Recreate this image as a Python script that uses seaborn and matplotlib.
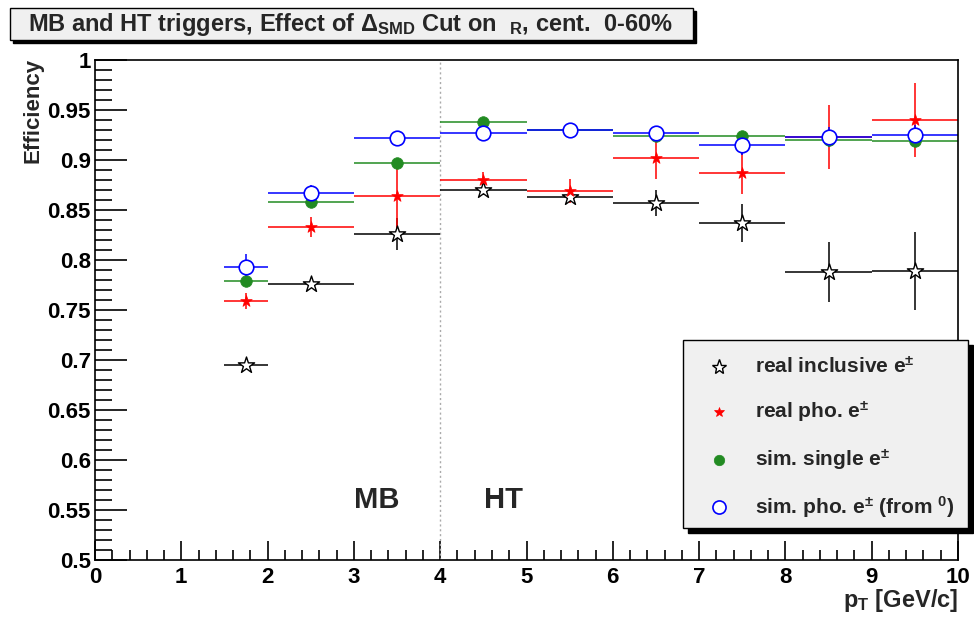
import numpy as np
import pandas as pd
import matplotlib
matplotlib.use("Agg")
import matplotlib.pyplot as plt
import seaborn as sns
from matplotlib.patches import Rectangle
from matplotlib.lines import Line2D
from matplotlib.ticker import MultipleLocator, FuncFormatter

# bin centres and half widths (GeV/c)
pt = [1.75, 2.5, 3.5, 4.5, 5.5, 6.5, 7.5, 8.5, 9.5]
pt_err = [0.25, 0.5, 0.5, 0.5, 0.5, 0.5, 0.5, 0.5, 0.5]

# efficiencies
real_incl = [0.695, 0.776, 0.826, 0.870, 0.863, 0.857, 0.837, 0.788, 0.789]
real_incl_err = [0.004, 0.004, 0.016, 0.005, 0.005, 0.013, 0.019, 0.030, 0.039]
real_pho = [0.759, 0.833, 0.864, 0.880, 0.869, 0.902, 0.887, 0.923, 0.940]
real_pho_err = [0.008, 0.010, 0.032, 0.008, 0.012, 0.021, 0.021, 0.032, 0.037]
sim_single = [0.779, 0.858, 0.897, 0.938, 0.930, 0.924, 0.924, 0.920, 0.919]
sim_single_err = [0.003, 0.003, 0.003, 0.002, 0.002, 0.003, 0.003, 0.003, 0.003]
sim_pho = [0.793, 0.867, 0.922, 0.927, 0.930, 0.927, 0.915, 0.923, 0.925]
sim_pho_err = [0.013, 0.008, 0.006, 0.007, 0.005, 0.006, 0.010, 0.010, 0.010]

labels = [r"real inclusive e$^{\pm}$", r"real pho. e$^{\pm}$",
          r"sim. single e$^{\pm}$", r"sim. pho. e$^{\pm}$ (from ${}^{0}$)"]

sns.set_style("ticks")
plt.rcParams["font.family"] = ["Liberation Sans", "DejaVu Sans"]
plt.rcParams["font.weight"] = "bold"
plt.rcParams["mathtext.fontset"] = "custom"
plt.rcParams["mathtext.rm"] = "Liberation Sans:bold"
plt.rcParams["mathtext.bf"] = "Liberation Sans:bold"
plt.rcParams["mathtext.it"] = "Liberation Sans:bold"
plt.rcParams["mathtext.default"] = "bf"

fig = plt.figure(figsize=(9.74, 6.17), dpi=100)
fig.patch.set_facecolor("white")
ax = fig.add_axes([95 / 974, 1 - 560 / 617, 863 / 974, 500 / 617])

series = [
    (real_incl, real_incl_err, "black", dict(marker="*", s=150, facecolor="white", edgecolor="black", linewidth=1.0)),
    (real_pho, real_pho_err, "red", dict(marker="*", s=75, facecolor="red", edgecolor="red", linewidth=0.5)),
    (sim_single, sim_single_err, "forestgreen", dict(marker="o", s=70, facecolor="forestgreen", edgecolor="forestgreen", linewidth=0.5)),
    (sim_pho, sim_pho_err, "blue", dict(marker="o", s=110, facecolor="white", edgecolor="blue", linewidth=1.2)),
]

for y, yerr, col, mk in series:
    ax.errorbar(pt, y, xerr=pt_err, yerr=yerr, fmt="none", ecolor=col, elinewidth=1.1, capsize=0, zorder=2)
    df = pd.DataFrame({"pt": pt, "eff": y})
    sns.scatterplot(data=df, x="pt", y="eff", ax=ax, zorder=3, legend=False, **mk)

ax.axvline(4, color="#aaaaaa", linestyle=(0, (1.5, 2)), linewidth=1, zorder=1)

ax.set_xlim(0, 10)
ax.set_ylim(0.5, 1.0)
ax.xaxis.set_major_locator(MultipleLocator(1))
ax.xaxis.set_minor_locator(MultipleLocator(0.2))
ax.yaxis.set_major_locator(MultipleLocator(0.05))
ax.yaxis.set_minor_locator(MultipleLocator(0.01))
ax.yaxis.set_major_formatter(FuncFormatter(lambda v, p: "0.5" if abs(v - 0.5) < 1e-9 else ("%.2f" % v).rstrip("0").rstrip(".")))
ax.tick_params(axis="both", which="both", direction="in", labelsize=16, width=1.2, color="black", labelcolor="black")
ax.tick_params(axis="x", which="major", length=14, pad=5)
ax.tick_params(axis="x", which="minor", length=7)
ax.tick_params(axis="y", which="major", length=23, pad=3)
ax.tick_params(axis="y", which="minor", length=12)
for sp in ax.spines.values():
    sp.set_linewidth(1.2)
    sp.set_color("black")
    sp.set_visible(True)
ax.set_xlabel("")
ax.set_ylabel("")
for lab in ax.get_xticklabels() + ax.get_yticklabels():
    lab.set_fontweight("bold")

fig.text(33 / 974, 1 - 58 / 617, "Efficiency", rotation=90, ha="center", va="top", fontsize=16, fontweight="bold")
fig.text(958 / 974, 1 - 600 / 617, r"p$_{T}$ [GeV/c]", ha="right", va="center", fontsize=17, fontweight="bold")

ax.text(3.27, 0.56, "MB", ha="center", va="center", fontsize=21, fontweight="bold")
ax.text(4.73, 0.56, "HT", ha="center", va="center", fontsize=21, fontweight="bold")


def box(x0, y0, x1, y1, sh):
    W, H = 974, 617
    fig.add_artist(Rectangle(((x0 + sh) / W, 1 - (y1 + sh) / H), (x1 - x0) / W, (y1 - y0) / H,
                             transform=fig.transFigure, facecolor="black", edgecolor="black", zorder=5))
    fig.add_artist(Rectangle((x0 / W, 1 - y1 / H), (x1 - x0) / W, (y1 - y0) / H,
                             transform=fig.transFigure, facecolor="#f0f0f0", edgecolor="black", linewidth=1, zorder=6))


# title box with shadow
box(10, 8, 693, 40, 3)
fig.text(351 / 974, 1 - 24 / 617, r"MB and HT triggers, Effect of $\Delta_{SMD}$ Cut on  ${}_{R}$, cent.  0-60%",
         ha="center", va="center", fontsize=17, fontweight="bold", zorder=7)

# legend box with shadow
box(683, 340, 968, 528, 5)
leg_y = [367, 412, 460, 507]
for (y, yerr, col, mk), lab, py in zip(series, labels, leg_y):
    fy = 1 - py / 617
    msize = np.sqrt(mk["s"]) * 0.9
    fig.add_artist(Line2D([719 / 974], [fy], transform=fig.transFigure, marker=mk["marker"], markersize=msize,
                          markerfacecolor=mk["facecolor"], markeredgecolor=mk["edgecolor"],
                          markeredgewidth=mk["linewidth"], linestyle="none", zorder=7))
    fig.text(755 / 974, fy, lab, ha="left", va="center", fontsize=15, fontweight="bold", zorder=7)

fig.savefig("out.png", dpi=100, facecolor="white")
